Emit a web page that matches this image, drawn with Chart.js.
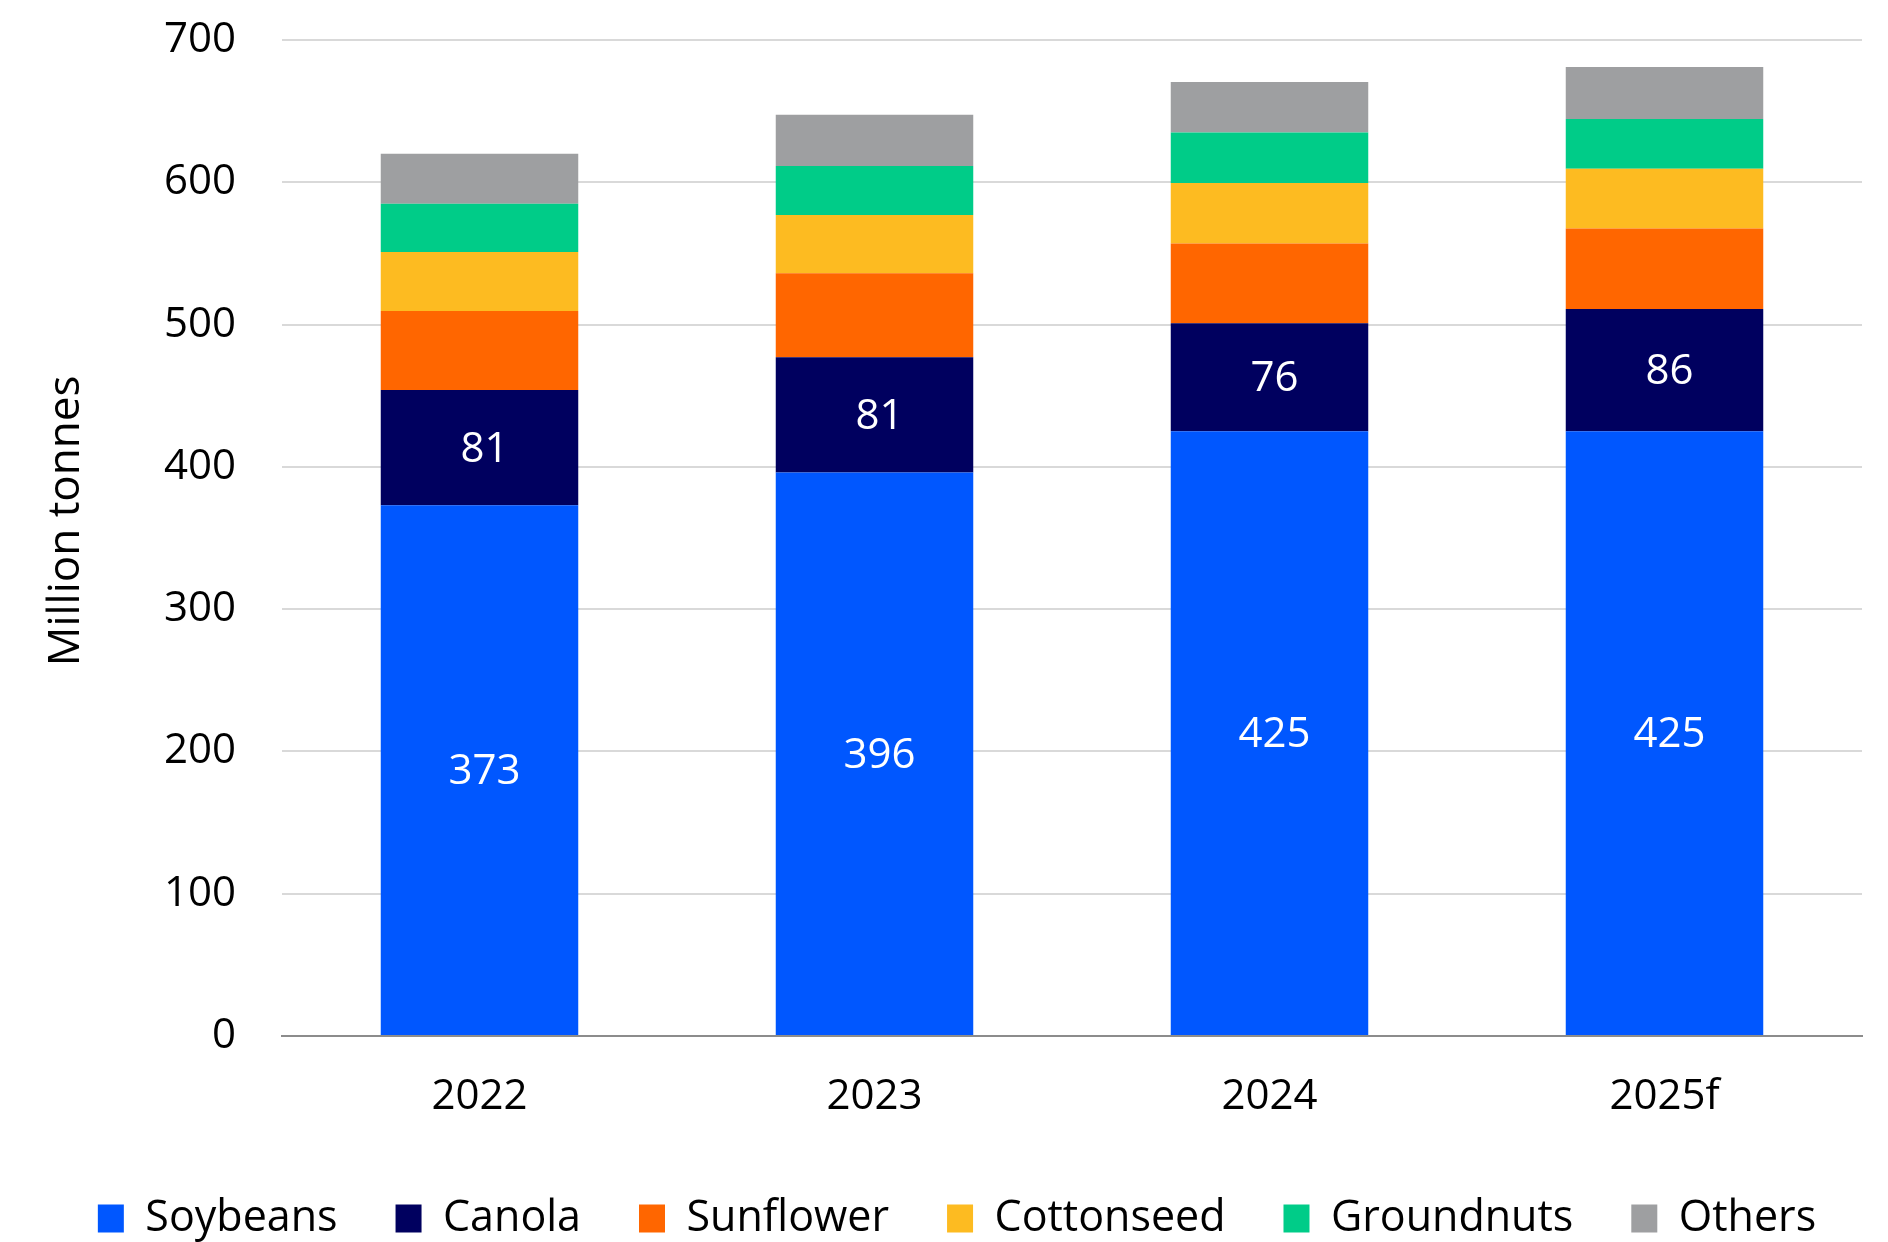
<!DOCTYPE html>
<html>
<head>
<meta charset="utf-8">
<script src="https://cdn.jsdelivr.net/npm/chart.js@4.4.1/dist/chart.umd.min.js"></script>
<style>
  html, body { margin: 0; padding: 0; background: #fff; }
  #wrap { width: 1888px; height: 1242px; }
</style>
</head>
<body>
<div id="wrap"><canvas id="oilseeds"></canvas></div>
<script>
"use strict";

// Production mondiale d'oléagineux (millions de tonnes)
const YEARS      = ["2022", "2023", "2024", "2025f"];
const SOYBEANS   = [373, 396, 425, 425];
const CANOLA     = [81, 81, 76, 86];
const SUNFLOWER  = [55.5, 59, 56, 56.5];
const COTTONSEED = [41.5, 41, 42.5, 42];
const GROUNDNUTS = [34, 34.5, 35.5, 35];
const OTHERS     = [35, 36, 35.5, 36.5];

const COLORS = {
  soybeans:   "#0057FF",
  canola:     "#00005F",
  sunflower:  "#FF6600",
  cottonseed: "#FDBB21",
  groundnuts: "#00CC88",
  others:     "#9E9FA1",
};

const FONT = "'Open Sans', 'Liberation Sans', sans-serif";

// Étiquettes blanches au centre des segments marqués "labels: true"
const segmentLabels = {
  id: "segmentLabels",
  afterDatasetsDraw(chart) {
    const ctx = chart.ctx;
    ctx.save();
    ctx.fillStyle = "#ffffff";
    ctx.font = "42px " + FONT;
    ctx.textAlign = "center";
    ctx.textBaseline = "middle";
    chart.data.datasets.forEach((ds, i) => {
      if (!ds.labels) return;
      chart.getDatasetMeta(i).data.forEach((bar, j) => {
        const mid = (bar.y + bar.base) / 2;
        ctx.fillText(String(ds.data[j]), bar.x + 5, mid + 2);
      });
    });
    ctx.restore();
  },
};

// Légende décalée vers la droite
const legendShift = {
  id: "legendShift",
  afterLayout(chart) {
    if (!chart.legend) return;
    chart.legend.left += 26;
    chart.legend.right += 26;
  },
};

function ds(label, data, color, labels = false) {
  return {
    label, data, labels,
    backgroundColor: color,
    borderWidth: 0,
    categoryPercentage: 1.0,
    barPercentage: 0.5,
  };
}

new Chart(document.getElementById("oilseeds"), {
  type: "bar",
  data: {
    labels: YEARS,
    datasets: [
      ds("Soybeans",   SOYBEANS,   COLORS.soybeans, true),
      ds("Canola",     CANOLA,     COLORS.canola, true),
      ds("Sunflower",  SUNFLOWER,  COLORS.sunflower),
      ds("Cottonseed", COTTONSEED, COLORS.cottonseed),
      ds("Groundnuts", GROUNDNUTS, COLORS.groundnuts),
      ds("Others",     OTHERS,     COLORS.others),
    ],
  },
  plugins: [segmentLabels, legendShift],
  options: {
    responsive: true,
    maintainAspectRatio: false,
    animation: false,
    layout: { padding: { top: 40, right: 26, bottom: -8, left: 0 } },
    plugins: {
      tooltip: { enabled: false },
      legend: {
        position: "bottom",
        labels: {
          color: "#000",
          font: { family: FONT, size: 43 },
          boxWidth: 26,
          boxHeight: 28,
          padding: 58,
        },
      },
    },
    scales: {
      x: {
        stacked: true,
        grid: { display: false, drawTicks: false },
        border: { display: true, color: "#8c8c8c", width: 2 },
        ticks: { color: "#000", font: { family: FONT, size: 42 }, padding: 36 },
        afterFit: (s) => { s.height = 103; },
      },
      y: {
        stacked: true,
        min: 0,
        max: 700,
        ticks: { stepSize: 100, color: "#000", font: { family: FONT, size: 42 }, padding: 10 },
        grid: {
          color: "#d9d9d9",
          lineWidth: 2,
          drawTicks: true,
          tickLength: 36,
          tickColor: "rgba(0,0,0,0)",
        },
        border: { display: false },
        title: {
          display: true,
          text: "   Million tonnes",
          color: "#000",
          font: { family: FONT, size: 44 },
          padding: { top: 40, bottom: 0 },
        },
        afterFit: (s) => { s.width = 282; },
      },
    },
  },
});
</script>
</body>
</html>
